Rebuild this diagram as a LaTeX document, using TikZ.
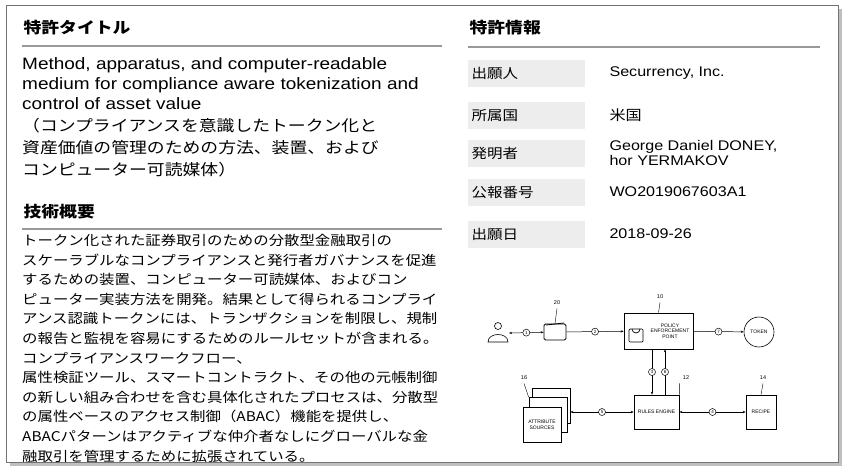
\documentclass[tikz,border=0pt]{standalone}
\usepackage{fontspec}
\setmainfont[FakeStretch=1.15]{Liberation Sans}
\newfontfamily\cjk[FakeStretch=1.15]{Noto Sans CJK JP}
\newfontfamily\dg{Liberation Sans}
\usetikzlibrary{arrows.meta}
\begin{document}
\begin{tikzpicture}[x=1pt,y=-1pt,
  head/.style={anchor=west,font=\cjk\bfseries\fontsize{15.5}{18}\selectfont},
  rl/.style={draw=gray!80,line width=1.2pt},
  lab/.style={fill=black!7,minimum width=117pt,minimum height=27pt,anchor=west,inner sep=0pt},
  labt/.style={anchor=west,font=\cjk\fontsize{13.5}{15}\selectfont},
  val/.style={anchor=west,font=\fontsize{14}{14.5}\selectfont,align=left},
  bx/.style={draw,line width=0.6pt,fill=white,font=\dg\fontsize{5}{5.5}\selectfont,align=center,inner sep=1pt},
  ar/.style={line width=0.5pt,-{Stealth[length=3pt]}},
  ba/.style={line width=0.5pt,{Stealth[length=3pt]}-{Stealth[length=3pt]}},
  num/.style={circle,draw,fill=white,inner sep=0pt,minimum size=7pt,font=\dg\fontsize{4.5}{5}\selectfont},
  ref/.style={font=\dg\fontsize{5.5}{6}\selectfont}]
\useasboundingbox (0,0) rectangle (850,472);
\fill[black!25] (10,9) rectangle (842,466);
\draw[fill=white,draw=black!55,line width=0.8pt] (6,5) rectangle (838,462);
% left
\node[head] (h1) at (20,28) {特許タイトル};
\draw[rl] (22,46) -- (442,46);
\node[anchor=north west,inner sep=0pt,align=left,font=\fontsize{16.5}{20}\selectfont] (ttl) at (22,57)
{Method, apparatus, and computer-readable\\medium for compliance aware tokenization and\\control of asset value};
\node[anchor=north west,inner sep=0pt,align=left,font=\cjk\fontsize{15.5}{22}\selectfont] (tj) at (22,118)
{（コンプライアンスを意識したトークン化と\\資産価値の管理のための方法、装置、および\\コンピューター可読媒体）};
\node[head] (h2) at (20,212) {技術概要};
\draw[rl] (22,229) -- (442,229);
\node[anchor=north west,inner sep=0pt,align=left,font=\cjk\fontsize{13.4}{19.6}\selectfont] (body) at (22,234)
{トークン化された証券取引のための分散型金融取引の\\スケーラブルなコンプライアンスと発行者ガバナンスを促進\\するための装置、コンピューター可読媒体、およびコン\\ピューター実装方法を開発。結果として得られるコンプライ\\アンス認識トークンには、トランザクションを制限し、規制\\の報告と監視を容易にするためのルールセットが含まれる。\\コンプライアンスワークフロー、\\属性検証ツール、スマートコントラクト、その他の元帳制御\\の新しい組み合わせを含む具体化されたプロセスは、分散型\\の属性ベースのアクセス制御（ABAC）機能を提供し、\\ABACパターンはアクティブな仲介者なしにグローバルな金\\融取引を管理するために拡張されている。};
% right
\node[head] (h3) at (466,28) {特許情報};
\draw[rl] (468,47) -- (820,47);
\foreach \y/\l/\v [count=\i] in {73/出願人/{Securrency, Inc.},115/所属国/{\cjk 米国},153/発明者/{George Daniel DONEY,\\hor YERMAKOV},192/公報番号/WO2019067603A1,234/出願日/2018-09-26}{
  \node[lab] (l\i) at (468,\y) {};
  \node[labt] (lt\i) at (468,\y) {\l};
  \node[val] (v\i) at (606,\y) {\v};
}
% diagram
\node[circle,draw,line width=0.6pt,minimum size=7pt,inner sep=0pt] (head) at (498,326) {};
\draw[line width=0.6pt] (488,342) .. controls (488,332) and (508,332) .. (508,342) -- cycle;
\coordinate (person) at (509,333);
\node[draw,rounded corners=1.5pt,line width=0.8pt,minimum width=22pt,minimum height=16pt] (wallet) at (555,332) {};
\draw[line width=0.8pt] (546,325) -- (564,323);
\node[bx,minimum width=69pt,minimum height=36pt] (pep) at (658.5,331) {};
\node[font=\dg\fontsize{5}{5.5}\selectfont,align=center,inner sep=0pt] (pept) at (670,331) {POLICY\\ENFORCEMENT\\POINT};
\draw[line width=0.7pt,rounded corners=1pt] (629,329) rectangle (643,342);
\draw[line width=0.7pt] (632,329) arc (180:0:4);
\node[circle,draw,line width=0.6pt,minimum size=30pt,inner sep=0pt,font=\dg\fontsize{5}{5.5}\selectfont] (tok) at (759,332) {TOKEN};
\node[bx,minimum width=45pt,minimum height=34pt] (re) at (656.5,412) {RULES ENGINE};
\node[bx,minimum width=30pt,minimum height=34pt] (rc) at (761,412) {RECIPE};
\node[bx,minimum width=38pt,minimum height=35pt] (as3) at (551,406) {};
\node[bx,minimum width=38pt,minimum height=35pt] (as2) at (548,415) {};
\node[bx,minimum width=38pt,minimum height=35pt] (as) at (542,425) {ATTRIBUTE\\SOURCES};
\draw[ba] (person) -- node[num]{1} (wallet);
\draw[ar] (wallet) -- node[num]{2} (pep);
\draw[ar] (pep) -- node[num]{7} (tok);
\draw[ar] (pep.south -| 652,0) -- node[num]{3} (re.north -| 652,0);
\draw[ar] (re.north -| 665,0) -- node[num]{6} (pep.south -| 665,0);
\draw[ba] (as3.east |- re) -- node[num]{5} (re);
\draw[ba] (re) -- node[num]{4} (rc);
\node[ref] (n20) at (557,303) {20};
\node[ref] (n10) at (660,297) {10};
\node[ref] (n12) at (686,378) {12};
\node[ref] (n14) at (763,378) {14};
\node[ref] (n16) at (524,378) {16};
\draw[line width=0.4pt] (n12.south west) -- (re.north east);
\draw[line width=0.4pt] (n14.south) -- (rc.north);
\draw[line width=0.4pt] (n16.south) -- (as2.north west);
\draw[line width=0.4pt] (n20.south) -- (wallet.north);
\draw[line width=0.4pt] (n10.south) -- (pep.north);
\end{tikzpicture}
\end{document}
